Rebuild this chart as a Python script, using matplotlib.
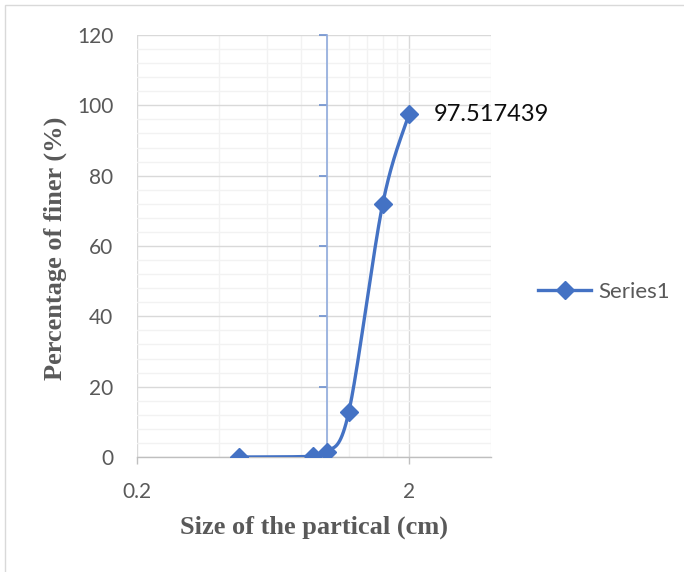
"""
Particle size distribution curve (percentage finer vs size, log x).
"""

import matplotlib
matplotlib.use("Agg")
import matplotlib.pyplot as plt
import matplotlib.ticker as mticker
from matplotlib.patches import Rectangle
import numpy as np

# Data
size_cm = [0.475, 0.89, 1.0, 1.2, 1.6, 2.0]
pct_finer = [0.0, 0.2, 1.3, 12.7, 72.0, 97.517439]
series_name = "Series1"
label_text = "97.517439"

x_major = [0.2, 2]
x_minor = [0.4, 0.6, 0.8, 1.0, 1.2, 1.4, 1.6, 1.8, 4]
y_major = [0, 20, 40, 60, 80, 100, 120]
y_minor = [v for v in range(0, 121, 4) if v % 20]

BLUE = "#4472C4"
TXT = "#595959"
plt.rcParams["font.family"] = ["Lato", "DejaVu Sans"]


def smooth_curve(xs, ys, n=40):
    """Excel-style smoothed line: Catmull-Rom Bezier in log-x space."""
    px = np.log10(np.asarray(xs, float))
    py = np.asarray(ys, float)
    pts = np.column_stack([px, py])
    ext = np.vstack([pts[0], pts, pts[-1]])
    out = []
    for i in range(len(pts) - 1):
        p0, p1, p2, p3 = ext[i], ext[i + 1], ext[i + 2], ext[i + 3]
        c1 = p1 + (p2 - p0) / 6.0
        c2 = p2 - (p3 - p1) / 6.0
        t = np.linspace(0, 1, n)[:, None]
        seg = ((1 - t) ** 3) * p1 + 3 * ((1 - t) ** 2) * t * c1 + 3 * (1 - t) * t ** 2 * c2 + t ** 3 * p2
        out.append(seg if i == 0 else seg[1:])
    seg = np.vstack(out)
    return 10 ** seg[:, 0], seg[:, 1]


fig = plt.figure(figsize=(6.84, 5.72), dpi=100)
fig.patches.append(Rectangle((5 / 684, -0.1), 1.2, 1.1 - 5 / 572,
                             transform=fig.transFigure, fill=False,
                             edgecolor="#D9D9D9", linewidth=1.0))
ax = fig.add_axes([137 / 684, 115 / 572, 354 / 684, 422 / 572])

ax.set_xscale("log")
ax.set_xlim(0.2, 4)
ax.set_ylim(0, 120)

ax.xaxis.set_major_locator(mticker.FixedLocator(x_major))
ax.xaxis.set_minor_locator(mticker.FixedLocator(x_minor))
ax.xaxis.set_major_formatter(mticker.FixedFormatter(["0.2", "2"]))
ax.xaxis.set_minor_formatter(mticker.NullFormatter())
ax.yaxis.set_major_locator(mticker.FixedLocator(y_major))
ax.yaxis.set_minor_locator(mticker.FixedLocator(y_minor))

ax.grid(which="major", color="#D9D9D9", linewidth=1.0)
ax.grid(which="minor", color="#F2F2F2", linewidth=1.0)
ax.set_axisbelow(True)

for s in ("top", "right"):
    ax.spines[s].set_visible(False)
ax.spines["bottom"].set_color("#BFBFBF")
ax.spines["bottom"].set_linewidth(1.0)
ax.spines["left"].set_position(("data", 1.0))
ax.spines["left"].set_color("#8FAADC")
ax.spines["left"].set_linewidth(1.2)

ax.tick_params(axis="x", which="major", length=5, width=1, color="#BFBFBF",
               labelsize=15, labelcolor=TXT, pad=13)
ax.tick_params(axis="x", which="minor", length=0)
ax.tick_params(axis="y", which="major", length=5.5, width=1.2, color="#6E90CF",
               labelleft=False)
ax.tick_params(axis="y", which="minor", length=0)

sec = ax.secondary_yaxis(0)
sec.set_yticks(y_major)
sec.tick_params(length=0, pad=17, labelsize=15, labelcolor=TXT)
sec.spines["left"].set_visible(False)

cx, cy = smooth_curve(size_cm, pct_finer)
ax.plot(cx, cy, color=BLUE, linewidth=2.4, solid_capstyle="round", zorder=3)
ax.plot(size_cm, pct_finer, linestyle="none", marker="D", markersize=9,
        color=BLUE, zorder=4)
ax.plot([], [], color=BLUE, linewidth=2.4, marker="D", markersize=9,
        label=series_name)

ax.annotate(label_text, (size_cm[-1], pct_finer[-1]), xytext=(18, 0),
            textcoords="offset points", ha="left", va="center",
            fontsize=17, color="#0D0D0D")

ax.legend(loc="center left", bbox_to_anchor=(538 / 684, 1 - 292 / 572),
          bbox_transform=fig.transFigure, frameon=False, fontsize=16,
          labelcolor=TXT, handlelength=2.4, handletextpad=0.3,
          borderaxespad=0, borderpad=0)

fig.text(55 / 684, 1 - 248 / 572, "Percentage of finer (%)", rotation=90,
         ha="center", va="center", fontsize=19, fontweight="bold",
         family="Liberation Serif", color=TXT)
fig.text(314 / 684, 1 - 527 / 572, "Size of the partical (cm)",
         ha="center", va="center", fontsize=19, fontweight="bold",
         family="Liberation Serif", color=TXT)

fig.savefig("out.png", dpi=100)
